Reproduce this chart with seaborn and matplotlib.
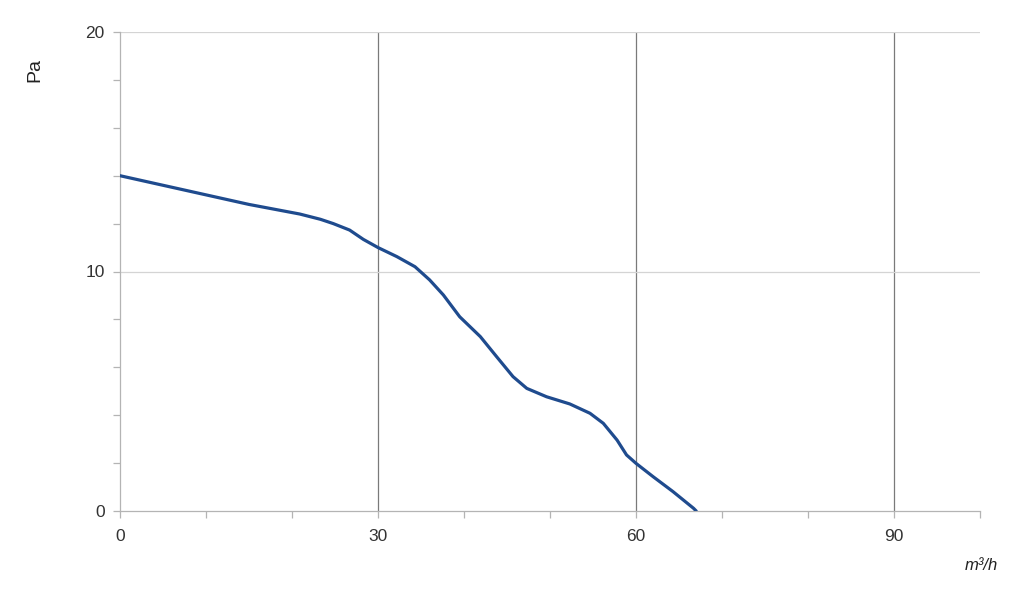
import matplotlib
matplotlib.use("Agg")
import matplotlib.pyplot as plt
import numpy as np
import pandas as pd
import seaborn as sns
from matplotlib.ticker import MultipleLocator

# Fan curve: airflow (m3/h) vs pressure (Pa)
airflow = [0, 5, 10, 15, 20.9, 23.3, 24.8, 26.7, 28.3, 30.0, 32.2, 34.3, 36.0, 37.6,
           39.5, 41.9, 43.8, 45.7, 47.3, 49.6, 52.3, 54.65, 56.2, 57.8, 58.9, 60.0,
           62.0, 64.3, 66.7, 67.0]
pressure = [14.0, 13.6, 13.2, 12.8, 12.4, 12.18, 12.0, 11.73, 11.34, 11.0, 10.62, 10.2, 9.65, 9.02,
            8.11, 7.28, 6.44, 5.61, 5.12, 4.77, 4.47, 4.08, 3.66, 2.96, 2.34, 1.99,
            1.43, 0.81, 0.11, 0.0]
x_major = [0, 30, 60, 90]
y_major = [0, 10, 20]

df = pd.DataFrame({"airflow": airflow, "pressure": pressure})

sns.set_style("white")
plt.rcParams["font.family"] = ["Liberation Sans", "DejaVu Sans"]

fig = plt.figure(figsize=(10.24, 5.95), dpi=100)
ax = fig.add_axes([120 / 1024, 1 - 511 / 595, 860 / 1024, 479 / 595])

# grid lines: dark verticals, light horizontals
for xv in x_major[1:]:
    ax.axvline(xv, color="#7a7a7a", lw=0.9, zorder=1)
for yv in y_major[1:]:
    ax.axhline(yv, color="#d4d4d4", lw=0.9, zorder=1)

sns.lineplot(data=df, x="airflow", y="pressure", ax=ax, color="#1f4b8e",
             linewidth=2.3, sort=False, zorder=3)
ax.lines[-1].set_solid_joinstyle("round")

ax.set_xlim(0, 100)
ax.set_ylim(0, 20)
ax.set_xticks(x_major)
ax.set_yticks(y_major)
ax.xaxis.set_minor_locator(MultipleLocator(10))
ax.yaxis.set_minor_locator(MultipleLocator(2))
ax.tick_params(axis="both", which="both", direction="out", length=5,
               width=0.9, color="#b4b4b4", labelsize=12.5, labelcolor="#333333")
ax.tick_params(axis="x", which="major", pad=8)
ax.tick_params(axis="y", which="major", pad=6)
ax.tick_params(bottom=True, left=True, which="both")

for side in ["top", "right"]:
    ax.spines[side].set_visible(False)
for side in ["left", "bottom"]:
    ax.spines[side].set_color("#b4b4b4")
    ax.spines[side].set_linewidth(0.9)

ax.set_xlabel("")
ax.set_ylabel("")
fig.text(35 / 1024, 1 - 70 / 595, "Pa", rotation=90, fontsize=14,
         ha="center", va="center", color="#222222")
fig.text(981 / 1024, 1 - 565 / 595, "m³/h", style="italic", fontsize=12,
         ha="center", va="center", color="#222222")

fig.savefig("out.png", dpi=100)
